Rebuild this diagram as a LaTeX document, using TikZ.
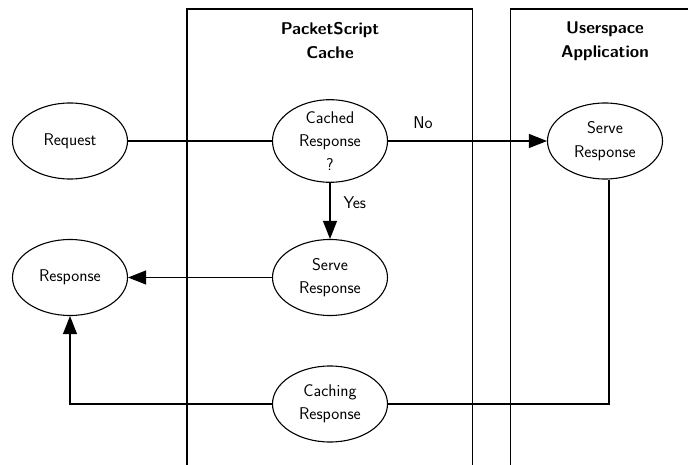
\documentclass[tikz,border=0pt]{standalone}
\usepackage{fontspec}
\usetikzlibrary{arrows.meta,shapes.geometric}
\tikzset{
  stateell/.style={draw, ellipse, line width=1.1pt, minimum width=115pt, minimum height=76pt,
    inner sep=0pt, align=center, font=\sffamily\fontsize{17}{23.3}\selectfont},
  lanetitle/.style={align=center, inner sep=0pt, font=\sffamily\bfseries\fontsize{17}{24}\selectfont},
  edgelabel/.style={font=\sffamily\fontsize{17}{20}\selectfont, inner sep=0pt},
  plainline/.style={line width=1.1pt},
  arrline/.style={line width=1.1pt, -{Triangle[length=18pt,width=14pt]}},
  laneline/.style={line width=1.1pt}
}
\begin{document}
\begin{tikzpicture}[x=1pt,y=-1pt]
\useasboundingbox (0,0) rectangle (688,465);
\clip (0,0) rectangle (688,465);
% lanes
\draw[laneline] (187,470) -- (187,9) -- (472.5,9) -- (472.5,470);
\draw[laneline] (510.5,470) -- (510.5,9) -- (695,9);
\node[lanetitle] (t1) at (330,41) {PacketScript\\Cache};
\node[lanetitle] (t2) at (605,41) {Userspace\\Application};
% nodes
\node[stateell] (req) at (70,141) {Request};
\node[stateell] (cached) at (330,141) {Cached\\Response\\?};
\node[stateell] (srv2) at (605,141) {Serve\\Response};
\node[stateell] (serve) at (330,277.5) {Serve\\Response};
\node[stateell] (resp) at (70,277.5) {Response};
\node[stateell] (caching) at (330,404) {Caching\\Response};
% connectors
\draw[plainline] (req) -- (cached);
\draw[arrline] (cached) -- (srv2) node[edgelabel, pos=0.22, anchor=south, yshift=12pt] {No};
\draw[arrline] (cached) -- (serve) node[edgelabel, pos=0.35, anchor=west, xshift=13pt] {Yes};
\draw[arrline] (serve) -- (resp);
\draw[arrline] (caching) -| (resp);
\draw[plainline] ([xshift=4pt]srv2.south) |- (caching);
\end{tikzpicture}
\end{document}
